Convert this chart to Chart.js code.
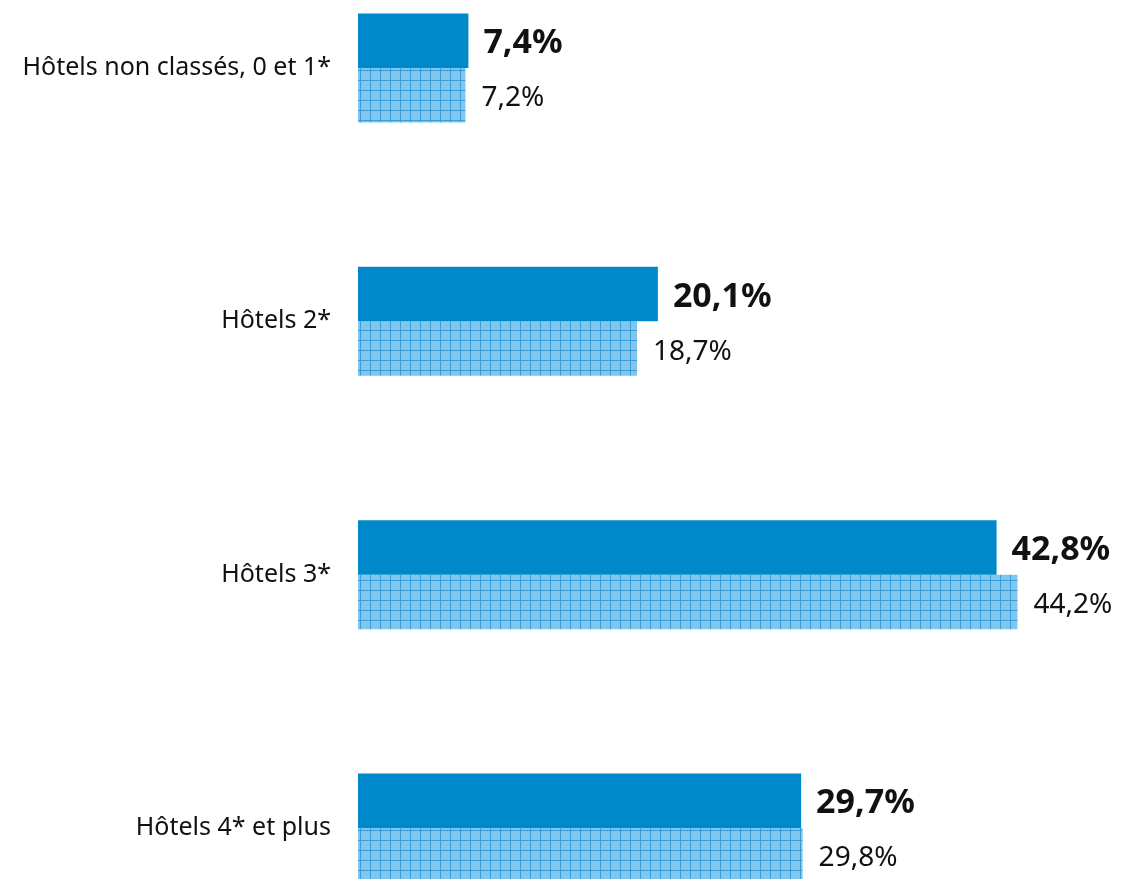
<!DOCTYPE html>
<html><head><meta charset="utf-8">
<script src="https://cdn.jsdelivr.net/npm/chart.js@4"></script>
<style>html,body{margin:0;padding:0;background:#fff;}#wrap{width:1122px;height:879px;}</style>
</head><body><div id="wrap"><canvas id="c"></canvas></div>
<script>
const categories = ["Hôtels non classés, 0 et 1*", "Hôtels 2*", "Hôtels 3*", "Hôtels 4* et plus"];
const seriesA = [7.4, 20.1, 42.8, 29.7];
const seriesB = [7.2, 18.7, 44.2, 29.8];
const labelsA = ["7,4%", "20,1%", "42,8%", "29,7%"];
const labelsB = ["7,2%", "18,7%", "44,2%", "29,8%"];

function makePattern(){
  const t = document.createElement('canvas'); t.width = 10; t.height = 10;
  const g = t.getContext('2d');
  g.fillStyle = '#8ccaeb'; g.fillRect(0,0,10,10);
  g.fillStyle = '#7cc1e7';
  for (let y=0;y<10;y++) for (let x=0;x<10;x++) if ((x+y)%2===0) g.fillRect(x,y,1,1);
  g.fillStyle = '#3a9dd8';
  g.fillRect(0,0,10,1); g.fillRect(0,0,1,10);
  return g.createPattern(t,'repeat');
}

const valueLabels = {
  id:'valueLabels',
  afterDatasetsDraw(chart){
    const ctx = chart.ctx;
    ctx.save();
    ctx.textBaseline = 'middle'; ctx.textAlign = 'left'; ctx.fillStyle = '#111';
    const m0 = chart.getDatasetMeta(0), m1 = chart.getDatasetMeta(1);
    m0.data.forEach((el,i)=>{ ctx.font = 'bold 34px "Noto Sans"'; ctx.fillText(labelsA[i], el.x+15, el.y+3); });
    m1.data.forEach((el,i)=>{ ctx.font = '28px "Noto Sans"'; ctx.fillText(labelsB[i], el.x+16, el.y+3); });
    ctx.restore();
  }
};

new Chart(document.getElementById('c'), {
  type:'bar',
  data:{ labels: categories, datasets:[
    { data: seriesA, backgroundColor:'#0089ca', clip:false, categoryPercentage:0.43, barPercentage:1 },
    { data: seriesB, backgroundColor: makePattern(), clip:false, categoryPercentage:0.43, barPercentage:1 }
  ]},
  options:{
    indexAxis:'y', responsive:true, maintainAspectRatio:false, animation:false,
    layout:{ padding:{ top:68, bottom:51, left:0, right:18 } },
    plugins:{ legend:{display:false}, tooltip:{enabled:false} },
    scales:{
      x:{ display:false, min:0, max:50 },
      y:{ offset:false, grid:{display:false, drawTicks:false}, border:{display:false},
          afterFit(s){ s.width = 358; },
          ticks:{ padding:27, color:'#111', font:{ family:'"Noto Sans"', size:25 } } }
    }
  },
  plugins:[valueLabels]
});
</script></body></html>
